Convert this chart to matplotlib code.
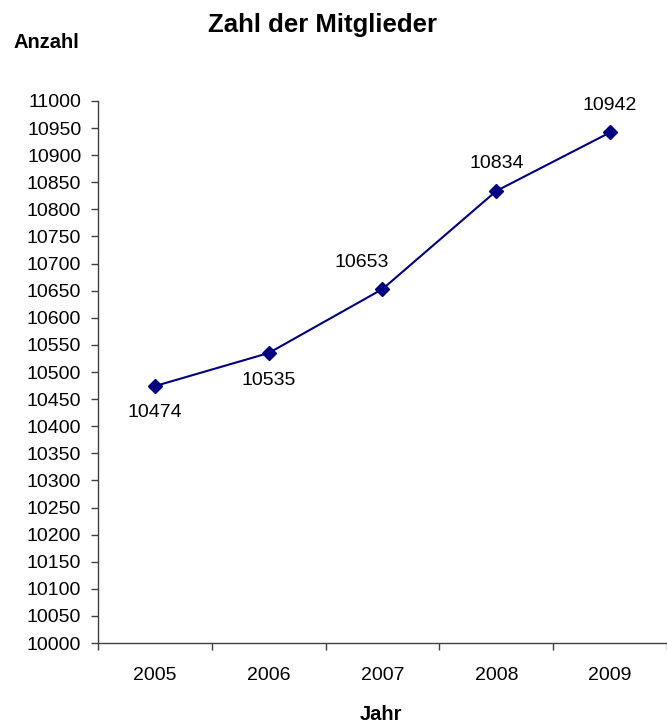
import numpy as np
import matplotlib.pyplot as plt

plt.rcParams['font.family'] = ['Liberation Sans', 'DejaVu Sans']

# Member counts per year
jahre = ['2005', '2006', '2007', '2008', '2009']
mitglieder = [10474, 10535, 10653, 10834, 10942]
# label offsets (points) for the value annotations
label_offsets = [(0, -19), (0, -19.5), (-15, 19), (0, 20), (0, 19.5)]

fig = plt.figure(figsize=(6.67, 7.26), dpi=100)
ax = fig.add_axes([0.1469, 0.1143, 0.8531, 0.7466])

x = np.arange(len(jahre))
ax.plot(x, mitglieder, color='#000080', linewidth=1.5,
        marker='D', markersize=7.5, markerfacecolor='#000080',
        markeredgecolor='#000080')

for xi, val, off in zip(x, mitglieder, label_offsets):
    ax.annotate(str(val), (xi, val), xytext=off, textcoords='offset points',
                ha='center', va='center', fontsize=14)

ax.set_xlim(-0.5, len(jahre) - 0.5)
ax.set_ylim(10000, 11000)
ax.set_yticks(np.arange(10000, 11001, 50))
ax.tick_params(axis='y', labelsize=14, length=5, width=1, color='#404040', pad=7)

# category ticks sit between the years
ax.set_xticks(np.arange(-0.5, len(jahre), 1.0))
ax.set_xticklabels([])
ax.set_xticks(x, minor=True)
ax.set_xticklabels(jahre, minor=True)
ax.tick_params(axis='x', which='major', length=5, width=1, color='#404040')
ax.tick_params(axis='x', which='minor', length=0, labelsize=14, pad=17)

for side in ['top', 'right']:
    ax.spines[side].set_visible(False)
for side in ['left', 'bottom']:
    ax.spines[side].set_color('#404040')
    ax.spines[side].set_linewidth(1)

fig.text(322 / 667, 1 - 25 / 726, 'Zahl der Mitglieder', ha='center', va='center',
         fontsize=18.5, fontweight='bold')
fig.text(46 / 667, 1 - 42 / 726, 'Anzahl', ha='center', va='center',
         fontsize=14.5, fontweight='bold')
fig.text(381 / 667, 1 - 714 / 726, 'Jahr', ha='center', va='center',
         fontsize=14.5, fontweight='bold')

fig.savefig('out.png', dpi=100)
